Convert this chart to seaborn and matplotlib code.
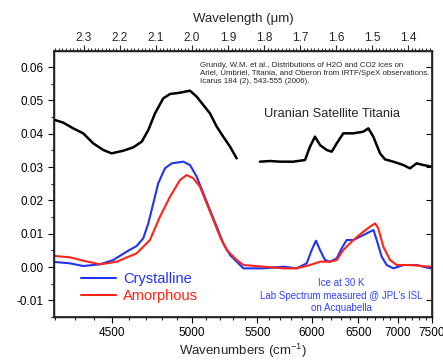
import numpy as np
import pandas as pd
import seaborn as sns
import matplotlib
matplotlib.use('Agg')
import matplotlib.pyplot as plt
from matplotlib.ticker import FixedLocator, MultipleLocator, FormatStrFormatter

# Titania spectrum (Grundy et al. 2006), two segments with a gap
titania_wn_a = [4201, 4242, 4292, 4344, 4397, 4452, 4498, 4565, 4623, 4674, 4714, 4756,
                4808, 4852, 4918, 4986, 5033, 5080, 5128, 5178, 5227, 5279, 5331]
titania_a = [0.0441, 0.0433, 0.0416, 0.0401, 0.0371, 0.0351, 0.0341, 0.0349, 0.0359, 0.0376,
             0.0411, 0.0461, 0.0506, 0.0519, 0.0523, 0.0529, 0.0511, 0.0486, 0.0461, 0.0421,
             0.0391, 0.0361, 0.0326]
titania_wn_b = [5521, 5607, 5696, 5819, 5931, 5980, 6030, 6081, 6151, 6204, 6258, 6330, 6444,
                6561, 6622, 6683, 6767, 6831, 6941, 7077, 7171, 7268, 7366, 7495]
titania_b = [0.0316, 0.0318, 0.0316, 0.0316, 0.0321, 0.0361, 0.0391, 0.0366, 0.0351, 0.0346,
             0.0371, 0.0401, 0.0401, 0.0406, 0.0416, 0.0391, 0.0341, 0.0323, 0.0316, 0.0306,
             0.0296, 0.0311, 0.0306, 0.0301]

# lab spectra, ice at 30 K
cryst_wn = [4201, 4276, 4344, 4433, 4507, 4584, 4643, 4683, 4714, 4745, 4776, 4819, 4863,
            4940, 4986, 5033, 5080, 5128, 5178, 5227, 5279, 5331, 5384, 5550, 5726, 5851,
            5947, 5997, 6040, 6081, 6133, 6186, 6258, 6312, 6368, 6444, 6522, 6602, 6685,
            6725, 6788, 6853, 6941, 7077, 7268, 7469]
cryst = [0.0015, 0.0011, 0.0003, 0.0008, 0.0021, 0.0046, 0.0063, 0.0086, 0.0131, 0.0191,
         0.0251, 0.0296, 0.0311, 0.0316, 0.0306, 0.0271, 0.0221, 0.0171, 0.0121, 0.0071,
         0.0036, 0.0016, -0.0004, -0.0004, 0.0001, -0.0004, 0.0011, 0.0051, 0.0079, 0.0051,
         0.0021, 0.0016, 0.0026, 0.0056, 0.0081, 0.0081, 0.0091, 0.0101, 0.0111, 0.0081,
         0.0031, 0.0006, -0.0004, 0.0006, 0.0006, -0.0004]
amorph_wn = [4201, 4276, 4344, 4433, 4527, 4643, 4724, 4787, 4852, 4918, 4963, 5009, 5056,
             5104, 5153, 5202, 5253, 5331, 5384, 5550, 5726, 5851, 5980, 6081, 6186, 6258,
             6330, 6444, 6561, 6642, 6704, 6745, 6809, 6897, 6986, 7171, 7469]
amorph = [0.0033, 0.0029, 0.0019, 0.0008, 0.0016, 0.0041, 0.0081, 0.0151, 0.0211, 0.0261,
          0.0276, 0.0266, 0.0241, 0.0191, 0.0141, 0.0091, 0.0051, 0.0021, 0.0006, 0.0001,
          -0.0004, -0.0004, 0.0006, 0.0016, 0.0016, 0.0021, 0.0051, 0.0081, 0.0106, 0.0121,
          0.0131, 0.0116, 0.0061, 0.0021, 0.0006, 0.0006, 0.0001]

wn_ticks = [4500, 5000, 5500, 6000, 6500, 7000, 7500]
um_ticks = [2.3, 2.2, 2.1, 2.0, 1.9, 1.8, 1.7, 1.6, 1.5, 1.4]

sns.set_theme(style='ticks')
plt.rcParams['font.family'] = ['Liberation Sans', 'DejaVu Sans']
plt.rcParams['axes.unicode_minus'] = False
plt.rcParams['mathtext.fontset'] = 'custom'
plt.rcParams['mathtext.rm'] = 'Liberation Sans'

blue = '#2233ee'
red = '#ff2418'

fig = plt.figure(figsize=(4.43, 3.6), dpi=100)
ax = fig.add_axes([0.1219, 0.1194, 0.8533, 0.7389])

# x axis is linear in wavelength
ax.set_xscale('function', functions=(lambda w: -1e4 / w, lambda v: -1e4 / v))

sns.lineplot(x=titania_wn_a, y=titania_a, color='black', lw=1.8, ax=ax)
sns.lineplot(x=titania_wn_b, y=titania_b, color='black', lw=1.8, ax=ax)
sns.lineplot(x=cryst_wn, y=cryst, color=blue, lw=1.5, ax=ax, label='Crystalline')
sns.lineplot(x=amorph_wn, y=amorph, color=red, lw=1.5, ax=ax, label='Amorphous')

ax.set_xlim(4196, 7500)
ax.set_ylim(-0.015, 0.0648)
ax.xaxis.set_major_locator(FixedLocator(wn_ticks))
ax.xaxis.set_minor_locator(FixedLocator(np.arange(4200, 7501, 100)))
ax.xaxis.set_major_formatter(FormatStrFormatter('%d'))
ax.yaxis.set_major_locator(MultipleLocator(0.01))
ax.yaxis.set_minor_locator(MultipleLocator(0.005))
ax.yaxis.set_major_formatter(FormatStrFormatter('%.2f'))
ax.tick_params(axis='both', which='major', labelsize=8.5, length=4, width=0.8, direction='out', colors='black')
ax.tick_params(axis='both', which='minor', length=2.5, width=0.8, direction='out')
ax.set_xlabel('Wavenumbers (cm$^{-1}$)', fontsize=9.5, labelpad=2)
ax.set_ylabel('')
for s in ax.spines.values():
    s.set_linewidth(1.0)
    s.set_color('black')

ax2 = ax.twiny()
ax2.set_xlim(1e4 / 4196, 1e4 / 7500)
ax2.xaxis.set_major_locator(FixedLocator(um_ticks))
ax2.xaxis.set_minor_locator(MultipleLocator(0.01))
ax2.xaxis.set_major_formatter(FormatStrFormatter('%.1f'))
ax2.tick_params(axis='x', which='major', labelsize=8.5, length=4, width=0.8, direction='out', pad=1)
ax2.tick_params(axis='x', which='minor', length=2.5, width=0.8, direction='out')
ax2.set_xlabel('Wavelength (\u03bcm)', fontsize=9.5, labelpad=7)

# inward major ticks on the right spine
for t in ax.yaxis.get_major_ticks():
    t.tick2line.set_visible(True)
    t.tick2line.set_marker(matplotlib.lines.TICKLEFT)
    t.tick2line.set_markersize(4)

leg = ax.legend(loc='upper left', bbox_to_anchor=(0.055, 0.19), frameon=False, fontsize=10.5,
                handlelength=2.4, handletextpad=0.5, labelspacing=0.2, borderaxespad=0)
for txt, c in zip(leg.get_texts(), [blue, red]):
    txt.set_color(c)

ax.text(0.385, 0.96, 'Grundy, W.M. et al., Distributions of H2O and CO2 ices on\n'
        'Ariel, Umbriel, Titania, and Oberon from IRTF/SpeX observations.\n'
        'Icarus 184 (2), 543-555 (2006).', transform=ax.transAxes, fontsize=5.7,
        va='top', ha='left', linespacing=1.2)
ax.text(0.735, 0.765, 'Uranian Satellite Titania', transform=ax.transAxes, fontsize=9.3,
        ha='center', va='center')
ax.text(0.76, 0.08, "Ice at 30 K\nLab Spectrum measured @ JPL's ISL\non Acquabella",
        transform=ax.transAxes, fontsize=7, color='#3344ee', ha='center', va='center',
        linespacing=1.3)

fig.savefig('out.png', dpi=100)
